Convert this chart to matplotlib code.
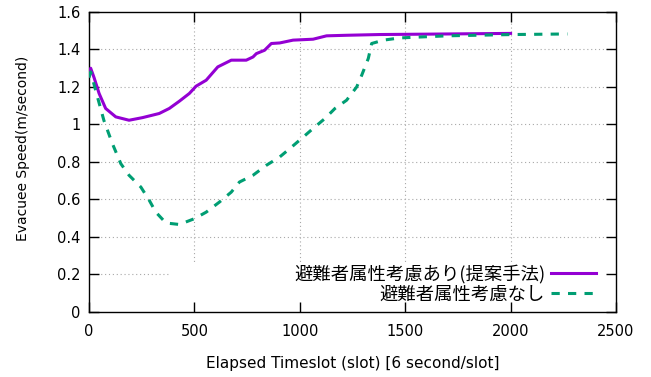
import numpy as np
import matplotlib
matplotlib.use("Agg")
import matplotlib.pyplot as plt
from matplotlib.patches import Rectangle

plt.rcParams['font.family'] = ['DejaVu Sans']

# 避難者属性考慮あり(提案手法)
slot_with = [0, 8, 24, 48, 79, 127, 190, 254, 333, 381, 429, 476, 508, 556, 611,
             675, 746, 778, 794, 833, 865, 905, 968, 1063, 1127, 1222, 1381,
             1600, 1800, 2000]
speed_with = [1.26, 1.30, 1.25, 1.165, 1.085, 1.04, 1.022, 1.036, 1.058, 1.085,
              1.124, 1.165, 1.204, 1.236, 1.307, 1.343, 1.343, 1.36, 1.378,
              1.396, 1.432, 1.435, 1.45, 1.455, 1.473, 1.476, 1.48, 1.482,
              1.484, 1.486]

# 避難者属性考慮なし
slot_without = [0, 8, 32, 71, 111, 151, 190, 246, 286, 317, 365, 429, 500, 556,
                619, 675, 714, 778, 841, 905, 952, 1008, 1063, 1119, 1167, 1222,
                1270, 1294, 1325, 1341, 1397, 1476, 1698, 2016, 2270]
speed_without = [1.25, 1.28, 1.18, 1.02, 0.897, 0.79, 0.728, 0.665, 0.594, 0.531,
                 0.473, 0.465, 0.496, 0.531, 0.585, 0.638, 0.692, 0.728, 0.781,
                 0.826, 0.870, 0.924, 0.978, 1.031, 1.085, 1.129, 1.20, 1.263,
                 1.352, 1.432, 1.45, 1.462, 1.473, 1.48, 1.483]

label_with = "避難者属性考慮あり(提案手法)"
label_without = "避難者属性考慮なし"

xticks = [0, 500, 1000, 1500, 2000, 2500]
yticks = [0, 0.2, 0.4, 0.6, 0.8, 1, 1.2, 1.4, 1.6]
ytick_labels = ["0", "0.2", "0.4", "0.6", "0.8", "1", "1.2", "1.4", "1.6"]

fig = plt.figure(figsize=(6.51, 3.77), dpi=100)
ax = fig.add_axes([0.1367, 0.1737, 0.8095, 0.7943])

# gnuplot style dotted grid, hidden behind the key box
for xt in xticks[1:-1]:
    ax.axvline(xt, color='#a8a8a8', lw=0.8, ls=(0, (1, 2.5)), zorder=0.5)
for yt in yticks[1:-1]:
    ax.axhline(yt, color='#a8a8a8', lw=0.8, ls=(0, (1, 2.5)), zorder=0.5)
ax.add_patch(Rectangle((0.154, 0), 0.846, 0.16, transform=ax.transAxes,
                       facecolor='white', edgecolor='none', zorder=1))

ax.plot(slot_with, speed_with, color='#9400D3', lw=2.2, label=label_with, zorder=3)
ax.plot(slot_without, speed_without, color='#009E73', lw=2.2, dashes=(2.7, 2.7),
        label=label_without, zorder=3)

ax.set_xlim(0, 2500)
ax.set_ylim(0, 1.6)
ax.set_xticks(xticks)
ax.set_yticks(yticks)
ax.set_yticklabels(ytick_labels)
ax.tick_params(direction='in', top=True, right=True, length=7, width=1,
               labelsize=10.5, colors='black')
ax.tick_params(axis='x', pad=9)
ax.tick_params(axis='y', pad=6)
for s in ax.spines.values():
    s.set_linewidth(1)

ax.set_xlabel("Elapsed Timeslot (slot) [6 second/slot]", fontsize=11, va='center')
ax.set_ylabel("Evacuee Speed(m/second)", fontsize=10, va='center')
ax.xaxis.set_label_coords(0.5, -0.175)
ax.yaxis.set_label_coords(-0.125, 0.546)

leg = ax.legend(loc='lower right', bbox_to_anchor=(0.97, 0.015), markerfirst=False,
                frameon=False, handlelength=2.5, handletextpad=0.3,
                labelspacing=0.12, borderaxespad=0, borderpad=0.2,
                prop=dict(family=['Noto Sans CJK JP', 'DejaVu Sans'], size=13.2))

fig.savefig("out.png", dpi=100)
